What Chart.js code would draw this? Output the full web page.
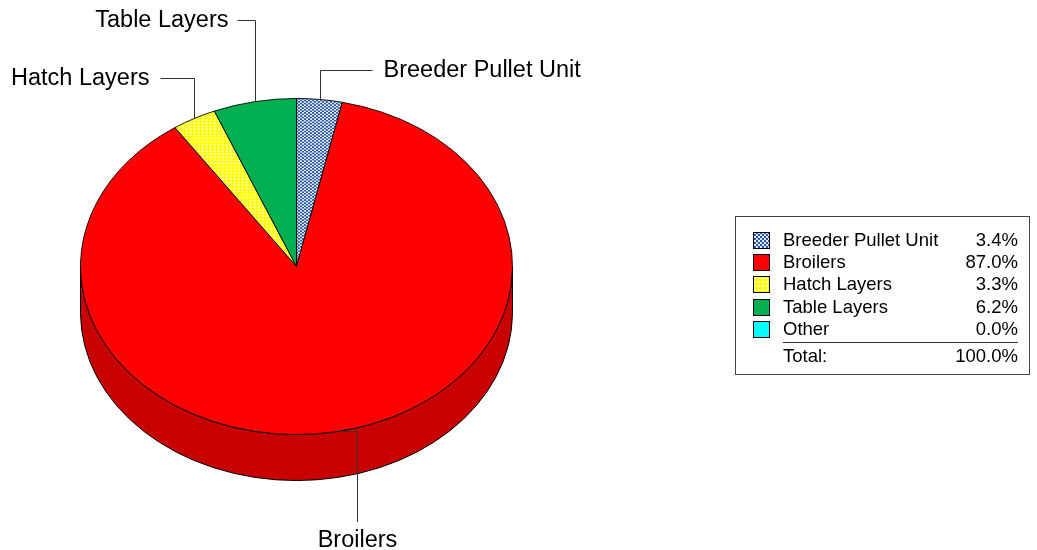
<!DOCTYPE html>
<html>
<head>
<meta charset="utf-8">
<script src="https://cdn.jsdelivr.net/npm/chart.js@4/dist/chart.umd.min.js"></script>
<style>
  body { margin: 0; background: #fff; }
  canvas { display: block; }
</style>
</head>
<body>
<canvas id="sharePie" width="1037" height="550"></canvas>
<script>
// percentage share of each unit type
const categories = ['Breeder Pullet Unit', 'Broilers', 'Hatch Layers', 'Table Layers', 'Other'];
const shares = [3.4, 87.0, 3.3, 6.2, 0.0];
const totalShare = 100.0;

const FONT = '"Liberation Sans", Arial, sans-serif';
const tilt = 0.778;   // vertical squash of the pie top
const depth = 46;     // thickness of the pie wall

function dotPattern() {
    const c = document.createElement('canvas');
    c.width = 4; c.height = 4;
    const g = c.getContext('2d');
    g.fillStyle = '#ffffff';
    g.fillRect(0, 0, 4, 4);
    g.fillStyle = '#2858a8';
    g.beginPath();
    g.arc(1, 1, 1.3, 0, Math.PI * 2);
    g.arc(3, 3, 1.3, 0, Math.PI * 2);
    g.fill();
    return g.createPattern(c, 'repeat');
}

function trianglePattern() {
    const c = document.createElement('canvas');
    c.width = 4; c.height = 4;
    const g = c.getContext('2d');
    g.fillStyle = '#ffff00';
    g.fillRect(0, 0, 4, 4);
    g.fillStyle = '#ffffff';
    g.beginPath();
    g.moveTo(1, 3); g.lineTo(3.5, 3); g.lineTo(3.5, 0.5);
    g.closePath();
    g.fill();
    return g.createPattern(c, 'repeat');
}

const fills = [dotPattern(), '#ff0000', trianglePattern(), '#00b050', '#00ffff'];
const sideColors = ['#1e4a8c', '#c80000', '#c8c800', '#008a3e', '#00c8c8'];

// leader lines for slice labels (index -> layout)
const leaders = {
    0: { mode: 'up', elbowY: 70, arm: 52, gap: 11 },
    1: { mode: 'down', elbowY: 522, arm: 19, textY: 541 },
    2: { mode: 'up', elbowY: 78, arm: -34, gap: 11 },
    3: { mode: 'up', elbowY: 20, arm: -18, gap: 9 }
};

function pieGeometry(chart) {
    const arcs = chart.getDatasetMeta(0).data;
    const p = arcs[0].getProps(['x', 'y', 'outerRadius']);
    return { arcs, cx: p.x, cy: p.y, r: p.outerRadius, ry: p.outerRadius * tilt };
}

const pie3d = {
    id: 'pie3d',
    beforeDatasetsDraw(chart) {
        const { arcs, cx, cy, r, ry } = pieGeometry(chart);
        const ctx = chart.ctx;
        ctx.save();
        arcs.forEach((arc, i) => {
            const { startAngle, endAngle } = arc.getProps(['startAngle', 'endAngle']);
            const a1 = Math.max(startAngle, 0);
            const a2 = Math.min(endAngle, Math.PI);
            if (a2 <= a1) return;
            ctx.beginPath();
            ctx.ellipse(cx, cy, r, ry, 0, a1, a2);
            ctx.ellipse(cx, cy + depth, r, ry, 0, a2, a1, true);
            ctx.closePath();
            ctx.fillStyle = sideColors[i];
            ctx.fill();
            ctx.strokeStyle = '#000';
            ctx.lineWidth = 1;
            ctx.stroke();
        });
        ctx.restore();
        // squash the top face into an ellipse
        ctx.save();
        ctx.translate(cx, cy);
        ctx.scale(1, tilt);
        ctx.translate(-cx, -cy);
    },
    afterDatasetsDraw(chart) {
        chart.ctx.restore();
    }
};

const sliceLabels = {
    id: 'sliceLabels',
    afterDraw(chart) {
        const { arcs, cx, cy, r, ry } = pieGeometry(chart);
        const ctx = chart.ctx;
        ctx.save();
        ctx.strokeStyle = '#333';
        ctx.lineWidth = 1;
        ctx.fillStyle = '#000';
        ctx.font = '23.5px ' + FONT;
        ctx.textBaseline = 'middle';
        Object.keys(leaders).forEach(key => {
            const i = Number(key);
            const L = leaders[i];
            const { startAngle, endAngle } = arcs[i].getProps(['startAngle', 'endAngle']);
            const mid = (startAngle + endAngle) / 2;
            const ax = Math.round(cx + r * Math.cos(mid)) + 0.5;
            const ay = cy + ry * Math.sin(mid);
            ctx.beginPath();
            if (L.mode === 'up') {
                const ey = Math.round(L.elbowY) + 0.5;
                ctx.moveTo(ax, ay);
                ctx.lineTo(ax, ey);
                ctx.lineTo(ax + L.arm, ey);
                ctx.stroke();
                ctx.textAlign = L.arm < 0 ? 'right' : 'left';
                ctx.fillText(categories[i], ax + L.arm + Math.sign(L.arm) * L.gap, L.elbowY + 1);
            } else {
                const ey = Math.round(ay) + 0.5;
                ctx.moveTo(ax, ey);
                ctx.lineTo(ax + L.arm, ey);
                ctx.lineTo(ax + L.arm, L.elbowY);
                ctx.stroke();
                ctx.textAlign = 'center';
                ctx.fillText(categories[i], ax + L.arm, L.textY);
            }
        });
        ctx.restore();
    }
};

const shareTable = {
    id: 'shareTable',
    afterDraw(chart) {
        const ctx = chart.ctx;
        const box = { x: 735.5, y: 216.5, w: 294, h: 158 };
        const rowTop = 240, rowStep = 22.2;
        const textX = 783, valueX = 1018;
        ctx.save();
        ctx.fillStyle = '#fff';
        ctx.fillRect(box.x, box.y, box.w, box.h);
        ctx.strokeStyle = '#444';
        ctx.lineWidth = 1;
        ctx.strokeRect(box.x, box.y, box.w, box.h);
        ctx.font = '18.5px ' + FONT;
        ctx.textBaseline = 'middle';
        categories.forEach((name, i) => {
            const y = rowTop + i * rowStep;
            ctx.fillStyle = fills[i];
            ctx.fillRect(753, Math.round(y - 8), 16, 16);
            ctx.strokeStyle = '#000';
            ctx.strokeRect(753.5, Math.round(y - 8) + 0.5, 16, 16);
            ctx.fillStyle = '#000';
            ctx.textAlign = 'left';
            ctx.fillText(name, textX, y + 1);
            ctx.textAlign = 'right';
            ctx.fillText(shares[i].toFixed(1) + '%', valueX, y + 1);
        });
        const sepY = 342.5;
        ctx.strokeStyle = '#333';
        ctx.beginPath();
        ctx.moveTo(textX, sepY);
        ctx.lineTo(valueX, sepY);
        ctx.stroke();
        ctx.textAlign = 'left';
        ctx.fillText('Total:', textX, 357);
        ctx.textAlign = 'right';
        ctx.fillText(totalShare.toFixed(1) + '%', valueX, 357);
        ctx.restore();
    }
};

new Chart(document.getElementById('sharePie'), {
    type: 'pie',
    data: {
        labels: categories,
        datasets: [{
            data: shares,
            backgroundColor: fills,
            borderColor: '#000',
            borderWidth: 1
        }]
    },
    options: {
        responsive: false,
        animation: false,
        events: [],
        layout: { padding: { left: 80, right: 524, top: 50, bottom: 67 } },
        plugins: {
            legend: { display: false },
            tooltip: { enabled: false }
        }
    },
    plugins: [pie3d, sliceLabels, shareTable]
});
</script>
</body>
</html>
